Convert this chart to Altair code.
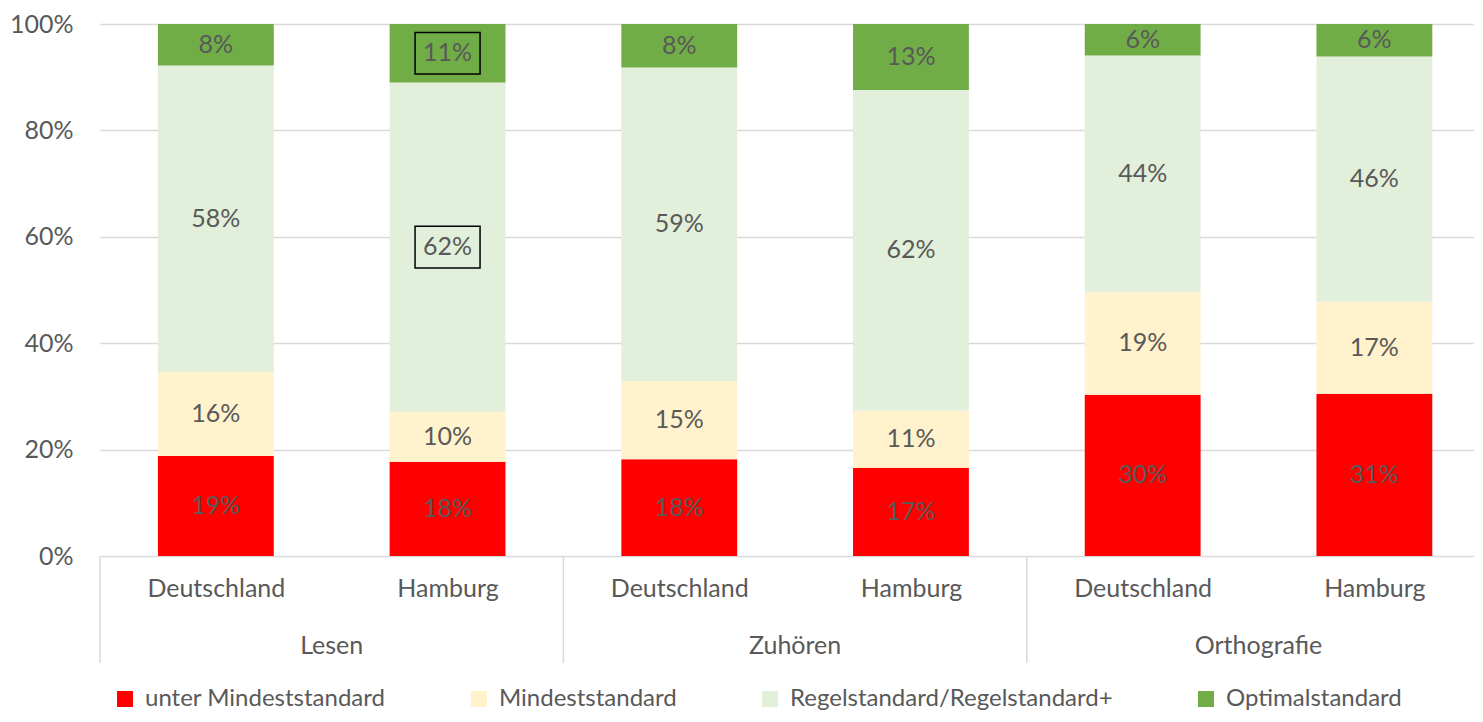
import altair as alt
import pandas as pd

# ---- data ----
groups = ["Lesen", "Lesen", "Zuhören", "Zuhören", "Orthografie", "Orthografie"]
regions = ["Deutschland", "Hamburg", "Deutschland", "Hamburg", "Deutschland", "Hamburg"]
group_names = ["Lesen", "Zuhören", "Orthografie"]
levels = ["unter Mindeststandard", "Mindeststandard", "Regelstandard/Regelstandard+", "Optimalstandard"]
colors = ["#FF0000", "#FFF2CC", "#E2EFDA", "#70AD47"]

# segment heights, per level
unter = [18.8, 17.7, 18.2, 16.6, 30.3, 30.5]
mindest = [15.8, 9.4, 14.7, 10.7, 19.3, 17.3]
regel = [57.6, 61.9, 58.9, 60.3, 44.5, 46.1]
optimal = [7.8, 11.0, 8.2, 12.4, 5.9, 6.1]

# printed labels
unter_lbl = ["19%", "18%", "18%", "17%", "30%", "31%"]
mindest_lbl = ["16%", "10%", "15%", "11%", "19%", "17%"]
regel_lbl = ["58%", "62%", "59%", "62%", "44%", "46%"]
optimal_lbl = ["8%", "11%", "8%", "13%", "6%", "6%"]

# labels drawn with a frame (Hamburg / Lesen)
boxed = [("Lesen", "Hamburg", "Optimalstandard"), ("Lesen", "Hamburg", "Regelstandard/Regelstandard+")]

# ---- build table ----
rows = []
series = [unter, mindest, regel, optimal]
labels = [unter_lbl, mindest_lbl, regel_lbl, optimal_lbl]
for i in range(len(regions)):
    base = 0.0
    for k, lev in enumerate(levels):
        v = series[k][i]
        rows.append({
            "idx": i, "x0": i - 0.25, "x1": i + 0.25,
            "group": groups[i], "region": regions[i],
            "level": lev, "order": k,
            "y0": base, "y1": base + v, "ymid": base + v / 2,
            "label": labels[k][i],
            "boxed": (groups[i], regions[i], lev) in boxed,
        })
        base += v
df = pd.DataFrame(rows)

sep_df = pd.DataFrame({"xs": [-0.5, 1.5, 3.5]})
grp_df = pd.DataFrame({"gx": [0.5, 2.5, 4.5], "name": group_names})

FONT = "Lato"
TXT = "#595959"
FS = 25
H = 532

xscale = alt.Scale(domain=[-0.5, 5.43], nice=False, zero=False)
yscale = alt.Scale(domain=[0, 100], nice=False)

label_expr = "[" + ",".join("'%s'" % r for r in regions) + "][datum.value]"

xaxis = alt.Axis(values=list(range(len(regions))), labelExpr=label_expr,
                 title=None, grid=False, domain=False, ticks=False,
                 labelPadding=20, labelFontSize=FS, labelFont=FONT,
                 labelColor=TXT)
yaxis = alt.Axis(values=[0, 20, 40, 60, 80, 100], labelExpr="datum.value + '%'",
                 title=None, domain=False, ticks=False, grid=True,
                 gridColor="#D9D9D9", gridWidth=1.3, labelPadding=27,
                 labelFontSize=FS, labelFont=FONT, labelColor=TXT)

bars = alt.Chart(df).mark_bar(strokeWidth=0).encode(
    x=alt.X("x0:Q", scale=xscale, axis=xaxis),
    x2="x1:Q",
    y=alt.Y("y0:Q", scale=yscale, axis=yaxis),
    y2="y1:Q",
    color=alt.Color("level:N", scale=alt.Scale(domain=levels, range=colors),
                    legend=alt.Legend(title=None, orient="none", direction="horizontal",
                                      legendX=13, legendY=H + 131, symbolType="square",
                                      symbolSize=256, symbolStrokeWidth=0,
                                      labelFontSize=24, labelFont=FONT, labelColor=TXT,
                                      labelOffset=8, columnPadding=81, labelLimit=500)),
)

texts = alt.Chart(df).mark_text(fontSize=FS, font=FONT, color=TXT).encode(
    x=alt.X("idx:Q", scale=xscale, axis=xaxis),
    y=alt.Y("ymid:Q", scale=yscale, axis=yaxis),
    text="label:N",
)

boxes = alt.Chart(df).transform_filter("datum.boxed").mark_point(
    shape="M-1,-0.64L1,-0.64L1,0.64L-1,0.64Z", filled=False, stroke="black",
    strokeWidth=1.5, size=4225, opacity=1).encode(
    x=alt.X("idx:Q", scale=xscale, axis=xaxis),
    y=alt.Y("ymid:Q", scale=yscale, axis=yaxis),
)

seps = alt.Chart(sep_df).mark_rule(color="#D9D9D9", strokeWidth=1.5).encode(
    x=alt.X("xs:Q", scale=xscale, axis=xaxis),
    y=alt.value(H),
    y2=alt.value(H + 107),
)

grp = alt.Chart(grp_df).mark_text(fontSize=FS, font=FONT, color=TXT, baseline="middle").encode(
    x=alt.X("gx:Q", scale=xscale, axis=xaxis),
    y=alt.value(H + 90),
    text="name:N",
)

chart = alt.layer(bars, texts, boxes, seps, grp).properties(
    width=1374, height=H,
    padding={"left": 92, "top": 16, "right": 0, "bottom": 158},
    autosize=alt.AutoSizeParams(type="none"),
).configure_view(stroke=None)

chart.save("out.html", embed_options={"renderer": "svg", "actions": False})
